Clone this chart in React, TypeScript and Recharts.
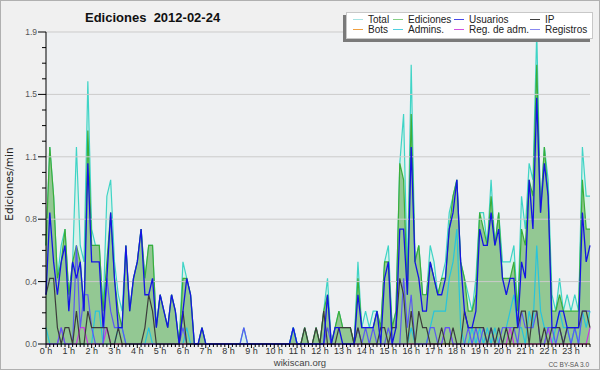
import React from 'react';
import { ComposedChart, Area, Line, XAxis, YAxis, CartesianGrid, ReferenceLine } from 'recharts';

// 10-minute slots over the day, hour labels every 6 slots
const hourLabels = [
  '0 h', '1 h', '2 h', '3 h', '4 h', '5 h', '6 h', '7 h', '8 h', '9 h', '10 h', '11 h',
  '12 h', '13 h', '14 h', '15 h', '16 h', '17 h', '18 h', '19 h', '20 h', '21 h', '22 h', '23 h',
];
const slots = Array.from({ length: 144 }, (_, i) => i);
const yMajor = [0, 0.38, 0.76, 1.14, 1.52, 1.9];
const yTicks = Array.from({ length: 21 }, (_, k) => k * 0.095);

const total = [
  0.6, 1.2, 0.9, 0.4, 0.6, 0.7, 0.3, 0.5, 1.2, 0.6, 0.5, 1.6,
  0.7, 0.6, 0.6, 0.2, 0.9, 1.0, 0.5, 0.3, 0.2, 0.6, 0.2, 0.4,
  0.5, 0.7, 0.4, 0.6, 0.6, 0.1, 0.3, 0.2, 0.1, 0.3, 0.2, 0,
  0.5, 0.4, 0.3, 0, 0, 0.1, 0, 0, 0, 0, 0, 0,
  0, 0, 0, 0, 0.1, 0, 0, 0, 0, 0, 0, 0,
  0, 0, 0, 0, 0, 0.1, 0, 0, 0.1, 0, 0, 0.1,
  0, 0.2, 0.4, 0, 0.1, 0.2, 0.1, 0.1, 0.1, 0, 0.5, 0.1,
  0.2, 0.1, 0.2, 0.2, 0.1, 0.5, 0.6, 0.1, 0.2, 1.1, 1.4, 0.4,
  1.7, 0.5, 0.6, 0.3, 0.3, 0.6, 0.5, 0.3, 0.4, 0.5, 0.8, 0.9,
  1.0, 0.5, 0.4, 0.3, 0.2, 0.4, 0.8, 0.8, 0.6, 1.0, 0.6, 0.8,
  0.5, 0.5, 0.5, 0.6, 0.2, 0.9, 0.7, 1.1, 1.0, 1.9, 0.8, 1.2,
  1.0, 0.3, 0.2, 0.4, 0.2, 0.3, 0.2, 0.3, 0.2, 1.2, 0.9, 0.9,
];
const ediciones = [
  0.6, 1.2, 0.9, 0.4, 0.5, 0.7, 0.3, 0.5, 0.6, 0.5, 0.2, 1.3,
  0.6, 0.6, 0.6, 0.2, 0.5, 0.8, 0.4, 0.2, 0.1, 0.6, 0.2, 0.4,
  0.5, 0.7, 0.4, 0.6, 0.6, 0.1, 0.3, 0.2, 0.1, 0.3, 0.2, 0,
  0.4, 0.4, 0.3, 0, 0, 0.1, 0, 0, 0, 0, 0, 0,
  0, 0, 0, 0, 0, 0, 0, 0, 0, 0, 0, 0,
  0, 0, 0, 0, 0, 0.1, 0, 0, 0.1, 0, 0, 0.1,
  0, 0.2, 0.3, 0, 0.1, 0.2, 0.1, 0.1, 0.1, 0, 0.4, 0.1,
  0.1, 0.1, 0.1, 0.2, 0.1, 0.5, 0.5, 0.1, 0.2, 1.1, 1.0, 0.3,
  1.4, 0.5, 0.6, 0.3, 0.3, 0.5, 0.4, 0.3, 0.4, 0.4, 0.7, 0.9,
  1.0, 0.5, 0.4, 0.2, 0.2, 0.3, 0.8, 0.7, 0.6, 0.9, 0.6, 0.8,
  0.4, 0.4, 0.4, 0.5, 0.2, 0.7, 0.6, 1.0, 0.9, 1.7, 0.8, 1.2,
  0.9, 0.2, 0.2, 0.3, 0.2, 0.2, 0.2, 0.2, 0.2, 1.0, 0.7, 0.7,
];
const usuarios = [
  0.3, 0.8, 0.5, 0.3, 0.5, 0.6, 0.2, 0.5, 0.4, 0.5, 0.2, 1.1,
  0.5, 0.5, 0.5, 0.1, 0.4, 0.8, 0.4, 0.1, 0.1, 0.6, 0.2, 0.4,
  0.5, 0.7, 0.3, 0.3, 0.4, 0.1, 0.3, 0.2, 0.1, 0.3, 0.2, 0,
  0.2, 0.4, 0.3, 0, 0, 0.1, 0, 0, 0, 0, 0, 0,
  0, 0, 0, 0, 0, 0, 0, 0, 0, 0, 0, 0,
  0, 0, 0, 0, 0, 0.1, 0, 0, 0, 0, 0, 0,
  0, 0, 0.3, 0, 0.1, 0.1, 0, 0, 0, 0, 0.3, 0.1,
  0.1, 0.1, 0.1, 0.2, 0, 0.4, 0.5, 0, 0.1, 0.7, 0.7, 0.3,
  1.2, 0.5, 0.4, 0.2, 0.2, 0.5, 0.4, 0.3, 0.3, 0.4, 0.7, 0.8,
  1.0, 0.5, 0.2, 0.1, 0.1, 0.2, 0.7, 0.6, 0.6, 0.8, 0.6, 0.7,
  0.4, 0.3, 0.4, 0.4, 0.1, 0.5, 0.4, 1.0, 0.7, 1.5, 0.8, 1.1,
  0.9, 0.1, 0.1, 0.2, 0.2, 0.1, 0.1, 0.1, 0.1, 0.8, 0.5, 0.6,
];
const ip = [
  0.3, 0.4, 0.4, 0.1, 0, 0.1, 0.1, 0, 0.2, 0, 0, 0.2,
  0.1, 0.1, 0.1, 0.1, 0.1, 0, 0, 0.1, 0, 0, 0, 0,
  0, 0, 0.1, 0.3, 0.2, 0, 0, 0, 0, 0, 0, 0,
  0.2, 0, 0, 0, 0, 0, 0, 0, 0, 0, 0, 0,
  0, 0, 0, 0, 0, 0, 0, 0, 0, 0, 0, 0,
  0, 0, 0, 0, 0, 0, 0, 0, 0.1, 0, 0, 0.1,
  0, 0.2, 0, 0, 0, 0.1, 0.1, 0.1, 0.1, 0, 0.1, 0,
  0, 0, 0, 0, 0.1, 0.1, 0, 0.1, 0.1, 0.4, 0.3, 0,
  0.2, 0, 0.2, 0.1, 0.1, 0, 0, 0, 0.1, 0, 0, 0.1,
  0, 0, 0.2, 0.1, 0.1, 0.1, 0.1, 0.1, 0, 0.1, 0, 0.1,
  0, 0.1, 0, 0.1, 0.1, 0.2, 0.2, 0, 0.2, 0.2, 0, 0.1,
  0, 0.1, 0.1, 0.1, 0, 0.1, 0.1, 0.1, 0.1, 0.2, 0.2, 0.1,
];
const bots = [
  0, 0, 0, 0, 0, 0, 0, 0, 0, 0, 0, 0,
  0, 0, 0, 0, 0, 0, 0, 0, 0, 0, 0, 0,
  0, 0, 0, 0, 0, 0, 0, 0, 0, 0, 0, 0,
  0, 0, 0, 0, 0, 0, 0, 0, 0, 0, 0, 0,
  0, 0, 0, 0, 0, 0, 0, 0, 0, 0, 0, 0,
  0, 0, 0, 0, 0, 0, 0, 0, 0, 0, 0, 0,
  0, 0, 0, 0, 0, 0, 0, 0, 0, 0, 0, 0,
  0, 0, 0, 0, 0, 0, 0, 0, 0, 0, 0, 0,
  0, 0, 0, 0, 0, 0, 0, 0, 0, 0, 0, 0,
  0, 0, 0, 0, 0, 0, 0, 0, 0, 0, 0, 0,
  0, 0, 0, 0, 0, 0, 0, 0, 0, 0, 0, 0,
  0, 0, 0, 0, 0, 0, 0, 0, 0, 0, 0, 0,
];
const admins = [
  0.1, 0, 0, 0, 0, 0, 0, 0, 0, 0, 0, 0,
  0, 0.2, 0.2, 0, 0, 0, 0, 0.1, 0.1, 0, 0, 0,
  0, 0, 0, 0.1, 0, 0, 0, 0, 0, 0, 0, 0,
  0, 0.1, 0, 0, 0, 0, 0, 0, 0, 0, 0, 0,
  0, 0, 0, 0, 0, 0, 0, 0, 0, 0, 0, 0,
  0, 0, 0, 0, 0, 0.1, 0, 0, 0, 0, 0, 0,
  0, 0, 0, 0, 0, 0, 0, 0, 0, 0, 0, 0,
  0, 0, 0, 0, 0, 0, 0, 0, 0, 0, 0, 0,
  0.1, 0, 0, 0, 0, 0.1, 0.2, 0.2, 0.2, 0.2, 0.4, 0.5,
  0.7, 0.1, 0, 0, 0.1, 0, 0.1, 0, 0.1, 0, 0.1, 0,
  0, 0.1, 0.2, 0.3, 0.1, 0.1, 0, 0.2, 0.1, 0.6, 0.2, 0.1,
  0.1, 0, 0.1, 0.2, 0.1, 0.1, 0, 0.1, 0, 0.2, 0.1, 0.2,
];
const regAdm = [
  0, 0, 0, 0, 0.1, 0, 0, 0, 0, 0.1, 0.1, 0,
  0, 0, 0, 0, 0.1, 0, 0, 0, 0, 0, 0, 0,
  0, 0, 0, 0, 0, 0, 0, 0, 0, 0, 0, 0,
  0, 0, 0, 0, 0, 0, 0, 0, 0, 0, 0, 0,
  0, 0, 0, 0, 0, 0, 0, 0, 0, 0, 0, 0,
  0, 0, 0, 0, 0, 0, 0, 0, 0, 0, 0, 0,
  0, 0, 0, 0, 0, 0, 0, 0, 0, 0, 0, 0,
  0, 0, 0, 0, 0, 0, 0, 0, 0, 0, 0, 0,
  0, 0, 0, 0, 0, 0, 0, 0, 0, 0.1, 0.1, 0,
  0, 0, 0, 0, 0, 0, 0, 0, 0, 0, 0, 0,
  0, 0, 0.1, 0, 0, 0, 0, 0, 0, 0, 0, 0,
  0.1, 0, 0, 0, 0, 0, 0, 0, 0, 0, 0, 0.1,
];
const registros = [
  0, 0, 0, 0, 0.1, 0, 0, 0, 0.6, 0.1, 0.3, 0.3,
  0.1, 0, 0, 0, 0.4, 0.2, 0.1, 0.1, 0.1, 0, 0, 0,
  0, 0, 0, 0, 0, 0, 0, 0, 0, 0, 0, 0,
  0.1, 0, 0, 0, 0, 0, 0, 0, 0, 0, 0, 0,
  0, 0, 0, 0, 0.1, 0, 0, 0, 0, 0, 0, 0,
  0, 0, 0, 0, 0, 0, 0, 0, 0, 0, 0, 0,
  0, 0, 0.1, 0, 0, 0, 0, 0, 0, 0, 0.1, 0,
  0.1, 0, 0.1, 0, 0, 0, 0.1, 0, 0, 0, 0.4, 0.1,
  0.3, 0, 0, 0, 0, 0.1, 0.1, 0, 0, 0.1, 0.1, 0,
  0, 0, 0, 0.1, 0, 0.1, 0, 0.1, 0, 0.1, 0, 0,
  0.1, 0.1, 0.1, 0.1, 0, 0.2, 0.1, 0.1, 0.1, 0.2, 0, 0,
  0.1, 0.1, 0, 0.1, 0, 0.1, 0, 0.1, 0, 0.2, 0.2, 0.2,
];

const data = slots.map((i) => ({
  i,
  total: total[i],
  ediciones: ediciones[i],
  usuarios: usuarios[i],
  ip: ip[i],
  bots: bots[i],
  admins: admins[i],
  regAdm: regAdm[i],
  registros: registros[i],
}));

const legendItems = [
  { name: 'Total', color: '#a6e3e3' },
  { name: 'Ediciones', color: '#86d086' },
  { name: 'Usuarios', color: '#4848e8' },
  { name: 'IP', color: '#404040' },
  { name: 'Bots', color: '#f0a040' },
  { name: 'Admins.', color: '#50d0e0' },
  { name: 'Reg. de adm.', color: '#d050e0' },
  { name: 'Registros', color: '#8888f0' },
];
const legendCols = [352, 392, 453, 529];

const font = '"Liberation Sans", Arial, sans-serif';

function XTick({ x, y, payload }: any) {
  const i = payload.value;
  const hour = i % 6 === 0;
  return (
    <g>
      <line x1={x} x2={x} y1={y} y2={y + (hour ? 4 : 3)} stroke="#000" />
      {hour && (
        <text x={x} y={y + 9.5} textAnchor="middle" fontSize={9} fill="#333" fontFamily={font}>
          {hourLabels[i / 6]}
        </text>
      )}
    </g>
  );
}

function YTick({ x, y, payload }: any) {
  const v = payload.value;
  const major = Math.round(v / 0.095) % 4 === 0;
  return (
    <g>
      <line x1={x - (major ? 8 : 4)} x2={x} y1={y} y2={y} stroke="#000" />
      {major && (
        <text x={x - 9} y={y + 3} textAnchor="end" fontSize={8.5} fill="#555" fontFamily={font}>
          {v.toFixed(1)}
        </text>
      )}
    </g>
  );
}

export default function App() {
  return (
    <div style={{ position: 'absolute', left: 0, top: 0, width: 600, height: 370, background: '#f0f0f0', fontFamily: font }}>
      <ComposedChart width={600} height={370} data={data} margin={{ top: 32, right: 10, bottom: 0, left: 0 }}>
        <CartesianGrid fill="#eef0f2" horizontal={false} vertical={false} />
        {yMajor.slice(1).map((v) => (
          <ReferenceLine key={v} y={v} stroke="#cbcbcb" />
        ))}
        <XAxis
          dataKey="i"
          type="number"
          domain={[0, 143]}
          ticks={slots}
          interval={0}
          height={26}
          tickLine={false}
          tickSize={0}
          tickMargin={0}
          axisLine={{ stroke: '#000' }}
          tick={(p: any) => <XTick {...p} />}
        />
        <YAxis
          type="number"
          domain={[0, 1.9]}
          ticks={yTicks}
          interval={0}
          width={46}
          tickLine={false}
          tickSize={0}
          tickMargin={0}
          axisLine={{ stroke: '#000' }}
          tick={(p: any) => <YTick {...p} />}
        />
        <Area type="linear" dataKey="total" stroke="#3fd4c6" strokeWidth={1.2} fill="#d9f1ea" fillOpacity={1} dot={false} activeDot={false} isAnimationActive={false} />
        <Area type="linear" dataKey="ediciones" stroke="#3aae3a" strokeWidth={1.2} fill="#93c893" fillOpacity={1} dot={false} activeDot={false} isAnimationActive={false} />
        <Line type="linear" dataKey="bots" stroke="#f0a040" strokeWidth={1.2} dot={false} activeDot={false} isAnimationActive={false} />
        <Line type="linear" dataKey="admins" stroke="#28c4dc" strokeWidth={1.2} dot={false} activeDot={false} isAnimationActive={false} />
        <Line type="linear" dataKey="regAdm" stroke="#c838e0" strokeWidth={1.2} dot={false} activeDot={false} isAnimationActive={false} />
        <Line type="linear" dataKey="registros" stroke="#5a5af2" strokeWidth={1.2} dot={false} activeDot={false} isAnimationActive={false} />
        <Line type="linear" dataKey="ip" stroke="#3c3c3c" strokeWidth={1.2} dot={false} activeDot={false} isAnimationActive={false} />
        <Line type="linear" dataKey="usuarios" stroke="#1414e4" strokeWidth={1.3} dot={false} activeDot={false} isAnimationActive={false} />
      </ComposedChart>

      <div style={{ position: 'absolute', left: 85, top: 10, fontSize: 13, fontWeight: 'bold', color: '#111', whiteSpace: 'pre' }}>
        {'Ediciones  2012-02-24'}
      </div>
      <div
        style={{
          position: 'absolute',
          left: 9,
          top: 184,
          transform: 'translate(-50%, -50%) rotate(-90deg)',
          fontSize: 10.5,
          fontFamily: '"DejaVu Sans", sans-serif',
          color: '#222',
          whiteSpace: 'nowrap',
        }}
      >
        Ediciones/min
      </div>
      <div style={{ position: 'absolute', left: 250, width: 100, top: 357, textAlign: 'center', fontSize: 9.5, color: '#444' }}>
        wikiscan.org
      </div>
      <div style={{ position: 'absolute', right: 11, top: 361, fontSize: 6.5, color: '#555' }}>CC BY-SA 3.0</div>

      {/* legend box with shadow */}
      <div style={{ position: 'absolute', left: 343, top: 15, width: 247, height: 27, background: '#7a7a7a' }} />
      <div style={{ position: 'absolute', left: 346, top: 12, width: 245, height: 25, background: '#fff', border: '1px solid #c8c8c8' }}>
        {legendItems.map((it, k) => {
          const col = k % 4;
          const row = Math.floor(k / 4);
          const left = legendCols[col] - 346;
          const top = row * 10 + 1;
          return (
            <div key={it.name} style={{ position: 'absolute', left, top, height: 11, display: 'flex', alignItems: 'center', whiteSpace: 'nowrap' }}>
              <span style={{ display: 'inline-block', width: 10, height: 1, background: it.color, marginRight: 5 }} />
              <span style={{ fontSize: 10, color: '#222', lineHeight: '11px' }}>{it.name}</span>
            </div>
          );
        })}
      </div>
      <div style={{ position: 'absolute', left: 0, top: 0, width: 598, height: 368, border: '1px solid #b0b0b0', pointerEvents: 'none' }} />
    </div>
  );
}
